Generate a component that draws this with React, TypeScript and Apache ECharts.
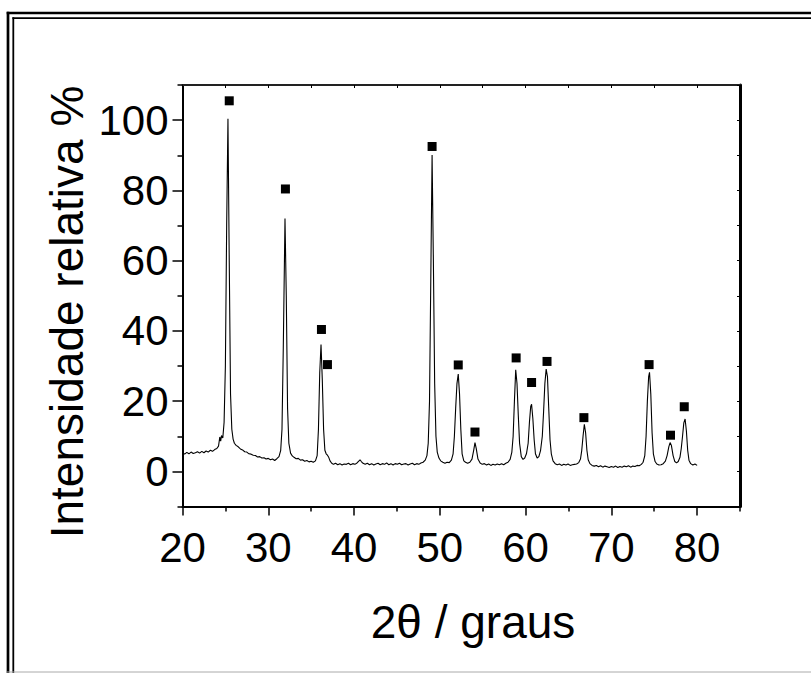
import React, { useEffect, useRef } from "react";
import * as echarts from "echarts";

// 2θ positions (degrees) of the measured pattern
const twoTheta: number[] = [
  20.0, 20.25, 20.5, 20.75, 21.0, 21.25, 21.5, 21.75, 22.0, 22.25, 22.5, 22.75, 23.0, 23.25, 23.5, 23.75, 24.0, 24.2, 24.35, 24.45, 24.55, 24.7, 24.85,
  25.0, 25.15, 25.3, 25.45, 25.6, 25.75, 25.9, 26.05, 26.25, 26.5, 26.75, 27.0, 27.25, 27.5, 27.75, 28.0, 28.25, 28.5, 28.75, 29.0, 29.25, 29.5, 29.75,
  30.0, 30.25, 30.5, 30.75, 31.0, 31.25, 31.45, 31.6, 31.75, 31.95, 32.1, 32.25, 32.4, 32.6, 32.8, 33.0, 33.25, 33.5, 33.75, 34.0, 34.25, 34.5, 34.75,
  35.0, 35.25, 35.5, 35.7, 35.85, 36.0, 36.15, 36.3, 36.45, 36.6, 36.75, 36.9, 37.05, 37.2, 37.4, 37.6, 37.85, 38.1, 38.35, 38.6, 38.85, 39.1, 39.35,
  39.6, 39.85, 40.1, 40.35, 40.55, 40.7, 40.85, 41.05, 41.3, 41.55, 41.8, 42.05, 42.3, 42.55, 42.8, 43.05, 43.3, 43.55, 43.8, 44.05, 44.3, 44.55, 44.8,
  45.05, 45.3, 45.55, 45.8, 46.05, 46.3, 46.55, 46.8, 47.05, 47.3, 47.55, 47.8, 48.05, 48.3, 48.5, 48.65, 48.8, 48.95, 49.1, 49.25, 49.4, 49.55, 49.7,
  49.9, 50.1, 50.35, 50.6, 50.85, 51.1, 51.35, 51.55, 51.7, 51.85, 52.0, 52.15, 52.3, 52.45, 52.6, 52.8, 53.0, 53.25, 53.5, 53.75, 53.95, 54.1, 54.25,
  54.45, 54.7, 54.95, 55.2, 55.45, 55.7, 55.95, 56.2, 56.45, 56.7, 56.95, 57.2, 57.45, 57.7, 57.95, 58.2, 58.4, 58.55, 58.7, 58.85, 59.0, 59.15, 59.3,
  59.5, 59.7, 59.9, 60.1, 60.3, 60.45, 60.6, 60.7, 60.85, 61.0, 61.15, 61.35, 61.55, 61.75, 61.95, 62.1, 62.25, 62.4, 62.55, 62.7, 62.85, 63.0, 63.2,
  63.45, 63.7, 63.95, 64.2, 64.45, 64.7, 64.95, 65.2, 65.45, 65.7, 65.95, 66.2, 66.4, 66.55, 66.7, 66.85, 67.0, 67.15, 67.3, 67.5, 67.75, 68.0, 68.25,
  68.5, 68.75, 69.0, 69.25, 69.5, 69.75, 70.0, 70.25, 70.5, 70.75, 71.0, 71.25, 71.5, 71.75, 72.0, 72.25, 72.5, 72.75, 73.0, 73.25, 73.5, 73.7, 73.9,
  74.05, 74.2, 74.35, 74.45, 74.6, 74.75, 74.9, 75.1, 75.3, 75.55, 75.8, 76.05, 76.3, 76.5, 76.7, 76.85, 77.0, 77.2, 77.4, 77.6, 77.8, 78.0, 78.15,
  78.3, 78.45, 78.6, 78.75, 78.9, 79.05, 79.25, 79.5, 79.75, 80.0,
];

// Relative intensity (%) at each 2θ position above
const intensity: number[] = [
  5.3, 4.9, 5.4, 5.0, 5.5, 5.1, 5.3, 5.6, 5.2, 5.7, 5.3, 5.8, 5.5, 6.0, 5.7, 6.2, 6.5, 7.2, 9.8, 8.6, 10.2, 9.5, 14,
  30, 70, 100.4, 60, 22, 12, 9.2, 8.0, 7.4, 7.0, 6.4, 6.1, 5.6, 5.5, 5.0, 4.9, 4.6, 4.5, 4.1, 4.2, 3.8, 3.9, 3.5,
  3.7, 3.3, 3.5, 3.1, 3.6, 4.2, 6, 12, 35, 72, 50, 18, 8, 5.2, 4.4, 4.0, 3.6, 3.7, 3.2, 3.3, 2.9, 3.1, 2.7,
  2.9, 2.6, 3.0, 4.5, 12, 28, 36.1, 26, 12, 6, 5.0, 4.6, 4.0, 3.0, 2.3, 2.0, 2.3, 1.9, 2.2, 1.8, 2.1, 2.0, 2.3,
  1.9, 2.2, 2.0, 2.4, 2.9, 3.3, 2.8, 2.3, 2.0, 2.3, 1.9, 2.2, 1.8, 2.1, 2.3, 1.9, 2.2, 2.0, 2.4, 1.9, 2.2, 1.8, 2.2,
  2.0, 2.3, 1.9, 2.1, 2.2, 1.8, 2.1, 2.3, 1.9, 2.2, 2.0, 2.4, 2.6, 3.2, 4.5, 8, 20, 55, 90.1, 60, 25, 10, 5.5,
  3.8, 3.0, 2.6, 2.3, 2.6, 2.5, 3.2, 5, 10, 18, 25, 27.7, 22, 12, 5, 3.0, 2.6, 2.3, 2.6, 3.5, 6, 8.2, 6.5,
  3.5, 2.4, 2.0, 2.2, 1.8, 2.1, 1.7, 2.0, 1.8, 2.1, 1.9, 2.2, 1.9, 2.3, 2.6, 3.4, 5.5, 10, 20, 28.9, 25, 16, 8,
  4.2, 3.4, 3.8, 5.0, 8, 14, 18.5, 19.1, 15, 9, 5, 3.8, 4.2, 6, 10, 17, 25, 29.1, 27, 18, 9, 5, 3.0,
  2.2, 1.9, 2.1, 1.7, 2.0, 1.8, 2.1, 1.7, 1.9, 2.0, 2.1, 2.5, 3.5, 6, 10, 13.4, 11, 6, 3.3, 2.2, 1.7, 1.5, 1.7,
  1.3, 1.6, 1.2, 1.5, 1.3, 1.1, 1.4, 1.2, 1.5, 1.1, 1.4, 1.2, 1.5, 1.3, 1.6, 1.2, 1.5, 1.4, 1.7, 1.6, 2.0, 2.6, 4.5,
  10, 20, 27, 28.2, 22, 11, 5, 2.8, 2.1, 1.8, 1.9, 2.2, 2.9, 4.5, 7, 8.2, 7.4, 4.5, 2.8, 2.4, 2.8, 4, 6.5,
  10, 13.8, 14.9, 11.5, 6, 3.2, 2.2, 1.8, 2.1, 1.7,
];

// Peak markers (filled squares)
const markerX: number[] = [25.45, 32.0, 36.2, 36.9, 49.1, 52.15, 54.1, 58.9, 60.7, 62.5, 66.8, 74.4, 76.9, 78.5];
const markerY: number[] = [105.5, 80.4, 40.4, 30.4, 92.5, 30.3, 11.2, 32.3, 25.3, 31.3, 15.3, 30.4, 10.3, 18.4];

// Tick values
const xMajorTicks: number[] = [20, 30, 40, 50, 60, 70, 80];
const xMinorTicks: number[] = [25, 35, 45, 55, 65, 75, 85];
const xTopTicks: number[] = [20, 25, 30, 35, 40, 45, 50, 55, 60, 65, 70, 75, 80, 85];
const yMajorTicks: number[] = [0, 20, 40, 60, 80, 100];
const yMinorTicks: number[] = [-10, 10, 30, 50, 70, 90, 110];
const yRightTicks: number[] = [-10, 0, 10, 20, 30, 40, 50, 60, 70, 80, 90, 100, 110];

const xTitle = "2θ / graus";
const yTitle = "Intensidade relativa %";

const FONT = "'Liberation Sans', Arial, Helvetica, sans-serif";

export default function App() {
  const ref = useRef<HTMLDivElement>(null);

  useEffect(() => {
    if (!ref.current) return;
    const chart = echarts.init(ref.current, null, { renderer: "svg" });

    const pattern = twoTheta.map((x, i) => [x, intensity[i]]);
    const markers = markerX.map((x, i) => [x, markerY[i]]);

    const X_MIN = 20, X_MAX = 85, Y_MIN = -10, Y_MAX = 110;

    const baseX = { type: "value", min: X_MIN, max: X_MAX, splitLine: { show: false } } as any;
    const baseY = { type: "value", min: Y_MIN, max: Y_MAX, splitLine: { show: false } } as any;

    chart.setOption({
      animation: false,
      backgroundColor: "#ffffff",
      grid: { left: 182.5, right: 71, top: 85, bottom: 166.5, containLabel: false },
      xAxis: [
        {
          ...baseX,
          position: "bottom",
          axisLine: { show: true, onZero: false, lineStyle: { color: "#000", width: 2 } },
          axisTick: { show: true, inside: false, length: 9, customValues: xMajorTicks, lineStyle: { color: "#000", width: 1.5 } },
          axisLabel: { show: true, customValues: xMajorTicks, margin: 20, color: "#000", fontSize: 42, fontFamily: FONT },
        },
        {
          ...baseX,
          position: "bottom",
          axisLine: { show: false, onZero: false },
          axisTick: { show: true, inside: false, length: 5, customValues: xMinorTicks, lineStyle: { color: "#000", width: 1.5 } },
          axisLabel: { show: false },
        },
        {
          ...baseX,
          position: "top",
          axisLine: { show: true, onZero: false, lineStyle: { color: "#222", width: 2 } },
          axisTick: { show: true, inside: true, length: 3, customValues: xTopTicks, lineStyle: { color: "#000", width: 1 } },
          axisLabel: { show: false },
        },
      ],
      yAxis: [
        {
          ...baseY,
          position: "left",
          axisLine: { show: true, onZero: false, lineStyle: { color: "#000", width: 2 } },
          axisTick: { show: true, inside: false, length: 10, customValues: yMajorTicks, lineStyle: { color: "#000", width: 1.5 } },
          axisLabel: { show: true, customValues: yMajorTicks, margin: 14, color: "#000", fontSize: 42, fontFamily: FONT },
        },
        {
          ...baseY,
          position: "left",
          axisLine: { show: false, onZero: false },
          axisTick: { show: true, inside: false, length: 5, customValues: yMinorTicks, lineStyle: { color: "#000", width: 1.5 } },
          axisLabel: { show: false },
        },
        {
          ...baseY,
          position: "right",
          axisLine: { show: true, onZero: false, lineStyle: { color: "#000", width: 3 } },
          axisTick: { show: true, inside: true, length: 3, customValues: yRightTicks, lineStyle: { color: "#000", width: 1 } },
          axisLabel: { show: false },
        },
      ],
      series: [
        {
          type: "line",
          xAxisIndex: 0,
          yAxisIndex: 0,
          data: pattern,
          showSymbol: false,
          symbol: "none",
          lineStyle: { color: "#000", width: 1.1 },
          silent: true,
          z: 3,
        },
        {
          type: "scatter",
          xAxisIndex: 0,
          yAxisIndex: 0,
          data: markers,
          symbol: "rect",
          symbolSize: 9,
          itemStyle: { color: "#000", opacity: 1 },
          silent: true,
          z: 4,
        },
      ],
      graphic: [
        // double frame, left and top
        { type: "line", shape: { x1: 8, y1: 11.8, x2: 8, y2: 673 }, style: { stroke: "#000", lineWidth: 2.7 } },
        { type: "line", shape: { x1: 6.7, y1: 13.1, x2: 811, y2: 13.1 }, style: { stroke: "#000", lineWidth: 2.5 } },
        { type: "line", shape: { x1: 13.3, y1: 17.3, x2: 13.3, y2: 673 }, style: { stroke: "#000", lineWidth: 1.8 } },
        { type: "line", shape: { x1: 12.4, y1: 18.2, x2: 811, y2: 18.2 }, style: { stroke: "#000", lineWidth: 1.8 } },
        { type: "line", shape: { x1: 6.7, y1: 672, x2: 811, y2: 672 }, style: { stroke: "#aaaaaa", lineWidth: 1 } },
        {
          type: "text",
          x: 473,
          y: 622,
          style: { text: xTitle, align: "center", verticalAlign: "middle", fontSize: 46, fontFamily: FONT, fill: "#000" },
        },
        {
          type: "text",
          x: 67,
          y: 312,
          rotation: Math.PI / 2,
          style: { text: yTitle, align: "center", verticalAlign: "middle", fontSize: 46, fontFamily: FONT, fill: "#000" },
        },
      ],
    } as any);

    return () => chart.dispose();
  }, []);

  return <div ref={ref} style={{ position: "fixed", left: 0, top: 0, width: 811, height: 673 }} />;
}
